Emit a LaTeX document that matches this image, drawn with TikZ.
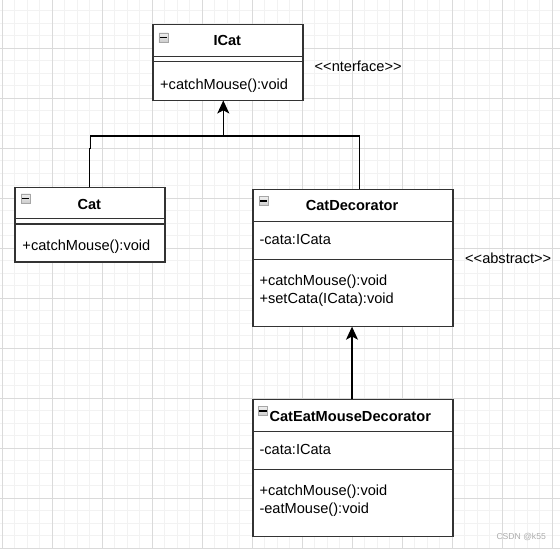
\documentclass[tikz,border=0pt]{standalone}
\usepackage{fontspec}
\setmainfont{Liberation Sans}
\usetikzlibrary{arrows.meta}
\definecolor{boxline}{HTML}{333333}
\definecolor{minorgrid}{HTML}{F2F2F2}
\definecolor{majorgrid}{HTML}{DADADA}
\tikzset{
  umlbox/.style={draw=boxline, line width=1.3pt, fill=white, inner sep=0pt, anchor=north west},
  sepline/.style={draw=boxline, line width=1.1pt},
  titletxt/.style={inner sep=0pt, anchor=base, font=\fontsize{14.6}{17}\selectfont\bfseries},
  bodytxt/.style={inner sep=0pt, anchor=base west, font=\fontsize{14.6}{17}\selectfont},
  notetxt/.style={inner sep=0pt, anchor=base west, font=\fontsize{14.6}{17}\selectfont},
  minusicon/.style={draw=gray!70, top color=gray!12, bottom color=gray!40, line width=0.7pt, minimum size=9.3pt, inner sep=0pt, anchor=north west},
  minusbar/.style={draw=black, line width=1.3pt},
  conn/.style={draw=black, line width=1.2pt},
  inh/.style={conn, -{Stealth[length=13pt, width=12pt, inset=3.2pt]}},
}
\begin{document}
\begin{tikzpicture}[x=1pt, y=-1pt]
\useasboundingbox (0,0) rectangle (560,549);
% grid
\foreach \i in {0,...,45} {
  \draw[minorgrid, line width=1.2pt] ({2.3+12.5*\i},0) -- ({2.3+12.5*\i},549);
  \draw[minorgrid, line width=1.2pt] (0,{-1.7+12.5*\i}) -- (560,{-1.7+12.5*\i});
}
\foreach \i in {0,...,11} {
  \draw[majorgrid, line width=0.9pt] ({2.3+50*\i},0) -- ({2.3+50*\i},549);
  \draw[majorgrid, line width=0.9pt] (0,{-1.7+50*\i}) -- (560,{-1.7+50*\i});
}

% ICat
\node[umlbox, minimum width=150pt, minimum height=75.5pt] (icat) at (152.3,24) {};
\draw[sepline] (icat.west |- 0,56.3) -- (icat.east |- 0,56.3);
\draw[sepline] (icat.west |- 0,61.7) -- (icat.east |- 0,61.7);
\node[minusicon] (icaticon) at (158.5,32.5) {};
\draw[minusbar] ([xshift=1.4pt]icaticon.west) -- ([xshift=-1.4pt]icaticon.east);
\node[titletxt] (icatt) at (227.3,45.7) {ICat};
\node[bodytxt] (icatm) at (160,89) {+catchMouse():void};
\node[notetxt] (inote) at (314.5,71.7) {<{}<nterface>{}>};

% Cat
\node[umlbox, minimum width=150pt, minimum height=74.6pt] (cat) at (14.3,186.7) {};
\draw[sepline] (cat.west |- 0,218.3) -- (cat.east |- 0,218.3);
\draw[sepline] (cat.west |- 0,224) -- (cat.east |- 0,224);
\node[minusicon] (caticon) at (20.7,193.5) {};
\draw[minusbar] ([xshift=1.4pt]caticon.west) -- ([xshift=-1.4pt]caticon.east);
\node[titletxt] (catt) at (89.3,209.3) {Cat};
\node[bodytxt] (catm) at (22.3,250.7) {+catchMouse():void};

% CatDecorator
\node[umlbox, minimum width=200pt, minimum height=137pt] (dec) at (252.3,189) {};
\draw[sepline] (dec.west |- 0,221.7) -- (dec.east |- 0,221.7);
\draw[sepline] (dec.west |- 0,259.3) -- (dec.east |- 0,259.3);
\node[minusicon] (decicon) at (258.7,196) {};
\draw[minusbar] ([xshift=1.4pt]decicon.west) -- ([xshift=-1.4pt]decicon.east);
\node[titletxt] (dect) at (352,210.7) {CatDecorator};
\node[bodytxt] (deca) at (259.3,244) {-cata:ICata};
\node[bodytxt] (decm1) at (259.3,285) {+catchMouse():void};
\node[bodytxt] (decm2) at (259.3,303.3) {+setCata(ICata):void};
\node[notetxt] (anote) at (465,263.3) {<{}<abstract>{}>};

% CatEatMouseDecorator
\node[umlbox, minimum width=200pt, minimum height=137pt] (eat) at (252.3,399) {};
\draw[sepline] (eat.west |- 0,431.7) -- (eat.east |- 0,431.7);
\draw[sepline] (eat.west |- 0,469.3) -- (eat.east |- 0,469.3);
\node[minusicon] (eaticon) at (258,406) {};
\draw[minusbar] ([xshift=1.4pt]eaticon.west) -- ([xshift=-1.4pt]eaticon.east);
\node[titletxt, anchor=base west] (eatt) at (269.3,421.3) {CatEatMouseDecorator};
\node[bodytxt] (eata) at (259.3,454) {-cata:ICata};
\node[bodytxt] (eatm1) at (259.3,495) {+catchMouse():void};
\node[bodytxt] (eatm2) at (259.3,513.3) {-eatMouse():void};

% watermark
\node[inner sep=0pt, anchor=base west, text=gray!65, font=\fontsize{8.6}{10}\selectfont] (wm) at (496.3,539) {CSDN @k55};

% connectors
\coordinate (icatin) at (223.3,100.5);
\coordinate (junc) at (223.3,136);
\coordinate (catup) at (89.3,186.7);
\coordinate (decin) at (359.3,189);
\draw[inh] (junc) -- (icatin);
\draw[conn] (junc) -- (90.7,136) -- (90.7,148.3) -- (89.3,148.3) -- (catup);
\draw[conn] (junc) -- (359.3,136) -- (decin);
\coordinate (eatout) at (352,399);
\coordinate (decbot) at (352,326.7);
\draw[inh] (eatout) -- (decbot);
\end{tikzpicture}
\end{document}
